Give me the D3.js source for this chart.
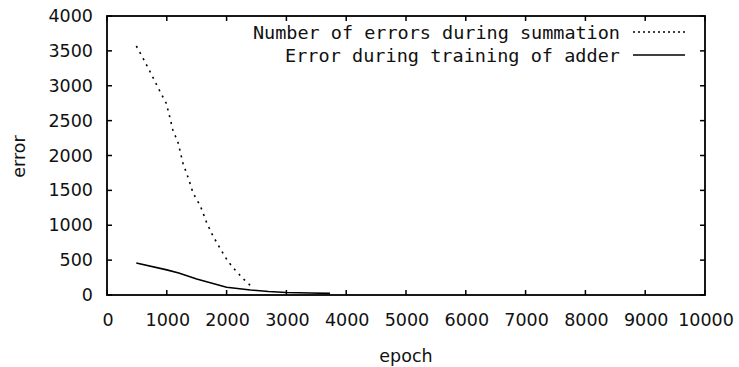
<!DOCTYPE html>
<html><head><meta charset="utf-8">
<script src="https://cdn.jsdelivr.net/npm/d3@7"></script>
<style>body{margin:0;background:#fff}</style>
</head><body><svg id="c" width="739" height="367"></svg>
<script>
const xTicks = [0,1000,2000,3000,4000,5000,6000,7000,8000,9000,10000];
const yTicks = [0,500,1000,1500,2000,2500,3000,3500,4000];
const seriesNames = ["Number of errors during summation","Error during training of adder"];
const summationEpochs = [490,600,750,890,990,1050,1100,1190,1270,1370,1440,1560,1670,1770,1890,2010,2110,2270,2440];
const summationErrors = [3570,3400,3150,2910,2750,2550,2370,2180,1890,1650,1460,1280,1030,850,670,500,390,240,100];
const trainingEpochs = [490,1000,1200,1500,2000,2400,2700,3000,3400,3730];
const trainingErrors = [460,360,315,230,110,72,50,36,28,24];

const svg = d3.select("#c");
const L=107,R=705,T=16,B=295;
const x = d3.scaleLinear().domain([0,10000]).range([L,R]);
const y = d3.scaleLinear().domain([0,4000]).range([B,T]);
const tickFont = "'DejaVu Sans', sans-serif";
const monoFont = "'DejaVu Sans Mono', monospace";
const fs = 17.5;

const g = svg.append("g");
xTicks.forEach(v=>{
  g.append("line").attr("x1",x(v)).attr("x2",x(v)).attr("y1",B).attr("y2",B-5).attr("stroke","#000").attr("stroke-width",1.5);
  g.append("line").attr("x1",x(v)).attr("x2",x(v)).attr("y1",T).attr("y2",T+5).attr("stroke","#000").attr("stroke-width",1.5);
  g.append("text").attr("x",x(v)+1).attr("y",320).attr("text-anchor","middle").attr("dominant-baseline","central")
   .attr("font-family",tickFont).attr("font-size",fs).attr("fill","#111").text(v);
});
yTicks.forEach(v=>{
  g.append("line").attr("x1",L).attr("x2",L+5).attr("y1",y(v)).attr("y2",y(v)).attr("stroke","#000").attr("stroke-width",1.5);
  g.append("line").attr("x1",R).attr("x2",R-5).attr("y1",y(v)).attr("y2",y(v)).attr("stroke","#000").attr("stroke-width",1.5);
  g.append("text").attr("x",93).attr("y",y(v)).attr("text-anchor","end").attr("dominant-baseline","central")
   .attr("font-family",tickFont).attr("font-size",fs).attr("fill","#111").text(v);
});
svg.append("rect").attr("x",L).attr("y",T).attr("width",R-L).attr("height",B-T).attr("fill","none").attr("stroke","#000").attr("stroke-width",1.8);

svg.append("text").attr("x",(L+R)/2).attr("y",356).attr("text-anchor","middle").attr("dominant-baseline","central")
  .attr("font-family",tickFont).attr("font-size",fs).attr("fill","#111").text("epoch");
svg.append("text").attr("transform",`translate(18.5,${(T+B)/2+1}) rotate(-90)`).attr("text-anchor","middle").attr("dominant-baseline","central")
  .attr("font-family",tickFont).attr("font-size",fs).attr("fill","#111").text("error");

const line = d3.line().x(d=>x(d[0])).y(d=>y(d[1]));
const s1 = summationEpochs.map((e,i)=>[e,summationErrors[i]]);
const s2 = trainingEpochs.map((e,i)=>[e,trainingErrors[i]]);
svg.append("path").attr("d",line(s1)).attr("fill","none").attr("stroke","#000").attr("stroke-width",1.6).attr("stroke-dasharray","2,5");
svg.append("path").attr("d",line(s2)).attr("fill","none").attr("stroke","#000").attr("stroke-width",1.6);

const ly=[32,55];
const lw=[367,335];
seriesNames.forEach((n,i)=>{
  svg.append("text").attr("x",620).attr("y",ly[i]).attr("text-anchor","end").attr("dominant-baseline","central")
    .attr("font-family",monoFont).attr("font-size",18.5).attr("fill","#111")
    .attr("textLength",lw[i]).attr("lengthAdjust","spacing").text(n);
  const ln = svg.append("line").attr("x1",633).attr("x2",685).attr("y1",ly[i]).attr("y2",ly[i]).attr("stroke","#000").attr("stroke-width",1.6);
  if(i===0) ln.attr("stroke-dasharray","2,3");
});
</script></body></html>
